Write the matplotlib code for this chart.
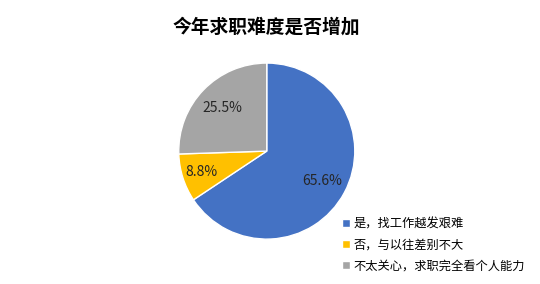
import numpy as np
import matplotlib.pyplot as plt

plt.rcParams['font.family'] = ['Noto Sans CJK SC', 'DejaVu Sans']

labels = ['是，找工作越发艰难', '否，与以往差别不大', '不太关心，求职完全看个人能力']
values = [65.6, 8.8, 25.5]
colors = ['#4472C4', '#FFC000', '#A5A5A5']
label_dist = [0.71, 0.78, 0.70]

fig = plt.figure(figsize=(5.4, 2.84), dpi=100)
ax = fig.add_axes([0.494 - 0.163, 0.468 - 0.31, 0.326, 0.62])

wedges, _ = ax.pie(values, colors=colors, startangle=90, counterclock=False,
                   wedgeprops=dict(edgecolor='white', linewidth=1.0))
ax.set_aspect('equal')
ax.set_xlim(-1, 1)
ax.set_ylim(-1, 1)

for w, v, d in zip(wedges, values, label_dist):
    ang = np.deg2rad((w.theta1 + w.theta2) / 2)
    ax.text(d * np.cos(ang), d * np.sin(ang), f'{v:.1f}%', ha='center', va='center',
            fontsize=10, color='#262626')

fig.text(0.494, 0.905, '今年求职难度是否增加', ha='center', va='center',
         fontsize=13.5, fontweight='bold', color='#000000')

fig.legend(wedges, labels, loc='upper left', bbox_to_anchor=(0.625, 0.251),
           frameon=False, fontsize=8.8, handlelength=0.6, handleheight=0.6,
           handletextpad=0.3, labelspacing=0.64, borderaxespad=0)

fig.savefig('out.png', dpi=100)
